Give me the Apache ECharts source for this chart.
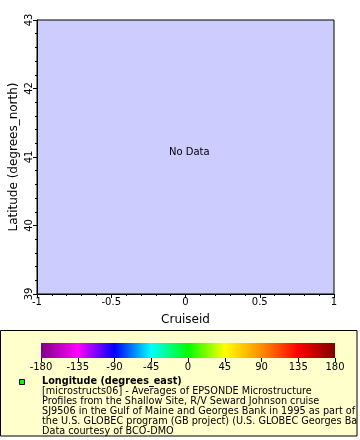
<!DOCTYPE html>
<html><head><meta charset="utf-8">
<script src="https://cdn.jsdelivr.net/npm/echarts@6/dist/echarts.min.js"></script>
<style>html,body{margin:0;padding:0;background:#fff}#c{width:360px;height:440px}</style>
</head><body><div id="c"></div>
<script>
// Data (none available: the reference shows "No Data")
const cruiseid = [];
const latitude = [];
const xRange = [-1, 1];
const yRange = [39, 43];
const colorbarTicks = [-180, -135, -90, -45, 0, 45, 90, 135, 180];
const colorStops = ['#800080', '#ff00ff', '#0000ff', '#00ffff', '#00ff00', '#ffff00', '#ff8c00', '#ff0000', '#800000'];
const legendTitle = 'Longitude (degrees_east)';
const legendLines = [
  '[microstructs06] - Averages of EPSONDE Microstructure',
  'Profiles from the Shallow Site, R/V Seward Johnson cruise',
  'SJ9506 in the Gulf of Maine and Georges Bank in 1995 as part of',
  'the U.S. GLOBEC program (GB project) (U.S. GLOBEC Georges Ba',
  'Data courtesy of BCO-DMO'
];

const font = 'DejaVu Sans';
const chart = echarts.init(document.getElementById('c'), null, {renderer: 'canvas'});
const fmt = v => (Math.abs(v) < 1e-9 ? '0' : String(+v.toFixed(2)));

chart.setOption({
  animation: false,
  backgroundColor: '#fff',
  textStyle: {fontFamily: font},
  grid: [
    {left: 37, top: 20, width: 297, height: 274, show: true, backgroundColor: '#ccccff', borderColor: '#000', borderWidth: 1, containLabel: false, outerBoundsMode: 'none'},
    {left: 41, top: 343, width: 294, height: 15, show: false, containLabel: false, outerBoundsMode: 'none'}
  ],
  xAxis: [{
    gridIndex: 0, type: 'value', min: xRange[0], max: xRange[1], interval: 0.5,
    name: 'Cruiseid', nameLocation: 'middle', nameGap: 20, nameMoveOverlap: false,
    nameTextStyle: {fontFamily: font, fontSize: 12, color: '#000'},
    axisLine: {show: true, onZero: false, lineStyle: {color: '#000'}},
    axisTick: {show: true, length: 4, lineStyle: {color: '#000'}},
    minorTick: {show: true, splitNumber: 5, length: 2, lineStyle: {color: '#000'}},
    splitLine: {show: false},
    axisLabel: {fontFamily: font, fontSize: 10, color: '#000', margin: 3, formatter: fmt}
  }, {
    gridIndex: 1, type: 'value', min: -180, max: 180, interval: 45,
    axisLine: {show: false},
    axisTick: {show: true, length: 4, lineStyle: {color: '#000'}},
    splitLine: {show: false},
    axisLabel: {fontFamily: font, fontSize: 10, color: '#000', margin: 4,
      formatter: v => colorbarTicks.includes(v) ? String(v) : ''}
  }],
  yAxis: [{
    gridIndex: 0, type: 'value', min: yRange[0], max: yRange[1], interval: 1,
    name: 'Latitude (degrees_north)', nameLocation: 'middle', nameGap: 17, nameMoveOverlap: false,
    nameTextStyle: {fontFamily: font, fontSize: 12, color: '#000'},
    axisLine: {show: true, onZero: false, lineStyle: {color: '#000'}},
    axisTick: {show: true, length: 4, lineStyle: {color: '#000'}},
    minorTick: {show: true, splitNumber: 5, length: 2, lineStyle: {color: '#000'}},
    splitLine: {show: false},
    axisLabel: {fontFamily: font, fontSize: 10, color: '#000', margin: 3, rotate: 90, formatter: fmt}
  }, {
    gridIndex: 1, type: 'value', min: 0, max: 1, show: false
  }],
  series: [{
    type: 'scatter', xAxisIndex: 0, yAxisIndex: 0,
    data: cruiseid.map((x, i) => [x, latitude[i]])
  }],
  graphic: [
    {type: 'text', left: 169, top: 147, z: 10,
      style: {text: 'No Data', font: '10px "DejaVu Sans"', fill: '#000'}},
    {type: 'rect', shape: {x: 0.5, y: 330.5, width: 356.5, height: 105.5}, z: -1,
      style: {fill: '#ffffcc', stroke: '#000', lineWidth: 1}},
    {type: 'rect', shape: {x: 41, y: 343, width: 294, height: 15}, z: 5,
      style: {fill: new echarts.graphic.LinearGradient(0, 0, 1, 0,
        colorStops.map((c, i) => ({offset: i / (colorStops.length - 1), color: c})))}},
    {type: 'rect', shape: {x: 19.5, y: 379.5, width: 5, height: 5}, z: 5,
      style: {fill: '#00ff00', stroke: '#000', lineWidth: 1}},
    {type: 'text', left: 42, top: 376, z: 5,
      style: {text: legendTitle, font: 'bold 9.7px "DejaVu Sans"', fill: '#000'}},
    {type: 'group', z: 5, children: legendLines.map((t, i) => ({
      type: 'text', x: 42, y: 386 + i * 10,
      style: {text: t, font: '9.7px "DejaVu Sans"', fill: '#000'}
    }))},
    {type: 'rect', shape: {x: 358, y: 330, width: 2, height: 110}, z: 20,
      style: {fill: '#fff'}}
  ]
});
</script></body></html>
